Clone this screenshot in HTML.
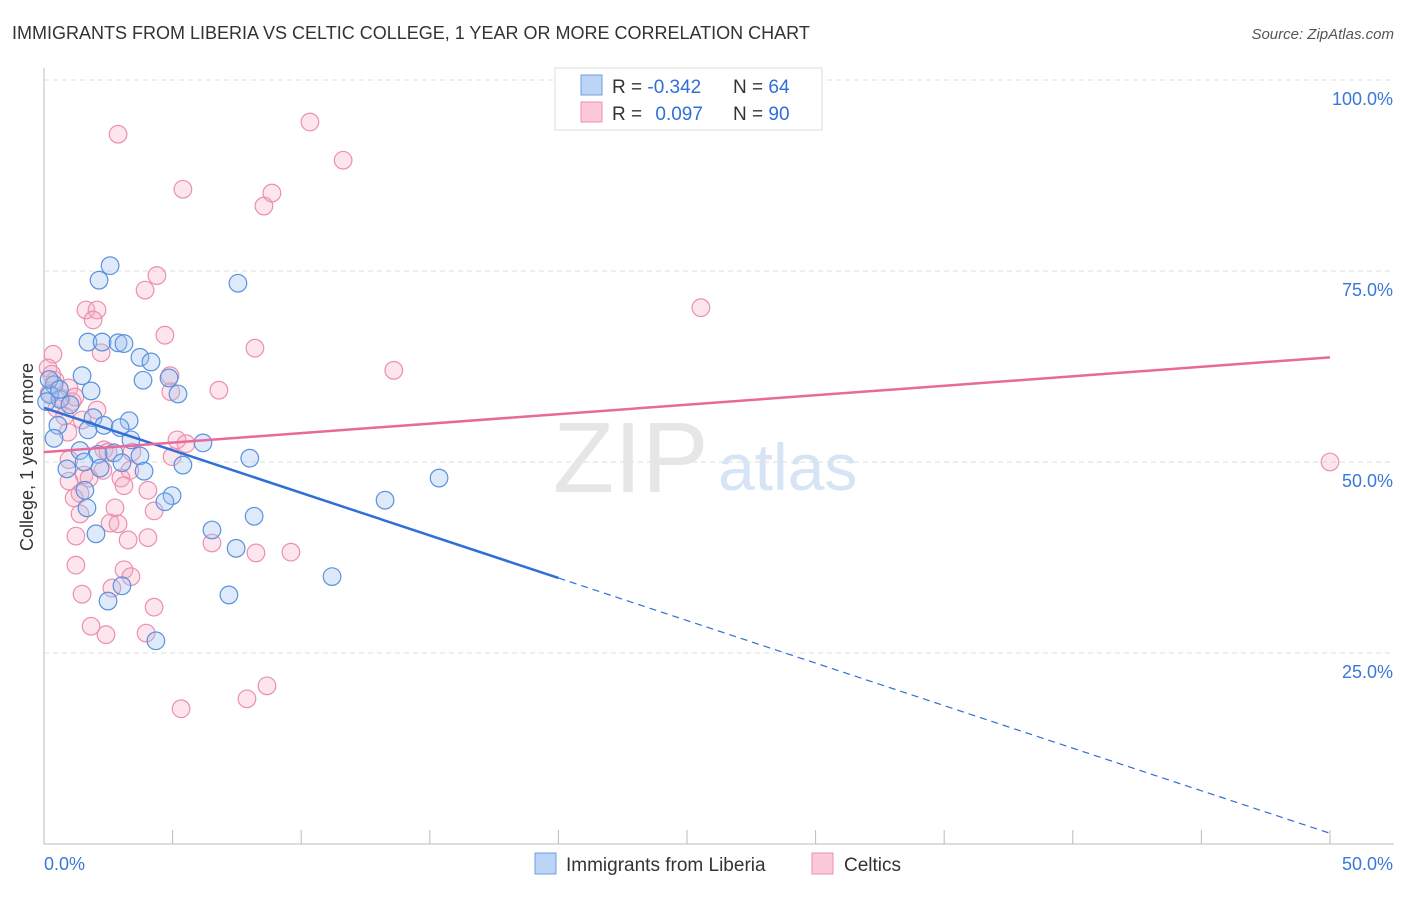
<!DOCTYPE html>
<html><head><meta charset="utf-8"><style>
body{margin:0;background:#fff;font-family:"Liberation Sans",sans-serif}
svg text{font-family:"Liberation Sans",sans-serif}
</style></head><body>
<svg id="chart" width="1406" height="892">
<text x="12" y="39" font-size="18" fill="#333">IMMIGRANTS FROM LIBERIA VS CELTIC COLLEGE, 1 YEAR OR MORE CORRELATION CHART</text>
<text x="1394" y="39" font-size="15" fill="#555" font-style="italic" text-anchor="end">Source: ZipAtlas.com</text>
<g id="grid"></g>
<text x="553" y="492" font-size="100" fill="#e6e6e6" font-family="Liberation Serif">ZIP</text>
<text x="718" y="490" font-size="66" fill="#d6e4f5">atlas</text>
<g id="marks"></g>
<text transform="translate(33,457) rotate(-90)" font-size="18" fill="#333" text-anchor="middle">College, 1 year or more</text>
<g>
<rect x="555" y="68" width="267" height="62" fill="#fff" stroke="#ddd"/>
<rect x="581" y="75" width="21" height="20" fill="#bcd4f5" stroke="#6d9fe0"/>
<rect x="581" y="102" width="21" height="20" fill="#fbc9d8" stroke="#ec8fae"/>
<text x="612" y="93" font-size="19" fill="#333">R = <tspan fill="#2f6fd6">-0.342</tspan></text>
<text x="733" y="93" font-size="19" fill="#333">N = <tspan fill="#2f6fd6">64</tspan></text>
<text x="612" y="120" font-size="19" fill="#333">R = <tspan fill="#2f6fd6" dx="8">0.097</tspan></text>
<text x="733" y="120" font-size="19" fill="#333">N = <tspan fill="#2f6fd6">90</tspan></text>
</g>
<g>
<rect x="535" y="853" width="21" height="21" fill="#bcd4f5" stroke="#6d9fe0"/>
<text x="566" y="871" font-size="19" fill="#333">Immigrants from Liberia</text>
<rect x="812" y="853" width="21" height="21" fill="#fbc9d8" stroke="#ec8fae"/>
<text x="844" y="871" font-size="19" fill="#333">Celtics</text>
</g>
</svg>
<script>
const xTicks=[0,5,10,15,20,25,30,35,40,45,50];
const yTicks=[25,50,75,100];
const yTickLabels=["25.0%","50.0%","75.0%","100.0%"];
const blueX=[2.57,2.14,7.54,1.71,2.26,2.88,3.11,3.73,4.16,1.48,3.85,4.86,1.83,5.21,0.39,0.23,0.62,1.01,1.91,3.31,0.54,2.33,2.96,1.71,3.38,6.18,0.39,1.40,2.72,2.10,3.73,8.0,1.56,3.03,0.89,2.18,3.89,5.4,15.36,1.59,4.98,4.7,13.26,1.67,8.17,6.53,2.02,7.47,3.03,2.49,7.19,11.2,4.35,0.2,0.6,0.1];
const blueY=[75.7,73.8,73.4,65.7,65.7,65.6,65.5,63.7,63.1,61.3,60.7,61.0,59.3,58.9,60.1,58.8,58.2,57.5,55.8,55.4,54.8,54.8,54.5,54.2,52.9,52.5,53.1,51.5,51.2,51.0,50.8,50.5,50.0,49.9,49.1,49.2,48.8,49.6,47.9,46.3,45.6,44.8,45.0,44.0,42.9,41.1,40.6,38.7,33.8,31.8,32.6,35.0,26.6,60.8,59.5,57.9];
const pinkX=[2.88,10.34,11.63,5.4,8.86,8.55,4.39,3.93,1.63,2.06,1.91,25.54,4.7,8.2,2.22,0.35,13.6,4.9,0.16,0.43,6.8,4.93,0.97,0.66,1.09,2.06,1.48,0.93,5.17,5.52,50,2.33,2.49,3.42,0.97,4.98,1.56,1.75,2.29,3.34,2.99,0.97,3.11,1.4,4.04,1.17,2.76,4.28,1.4,2.57,2.88,1.24,4.04,3.27,6.53,8.24,9.6,1.24,3.11,3.38,1.48,2.64,4.28,1.83,2.41,3.97,5.33,7.89,8.67,0.3,0.5,0.8,1.2,0.2];
const pinkY=[92.9,94.5,89.5,85.7,85.2,83.5,74.4,72.5,69.9,69.9,68.6,70.2,66.6,64.9,64.3,64.1,62.0,61.3,62.3,60.7,59.4,59.2,59.7,58.4,57.9,56.8,55.5,53.9,52.9,52.4,50.0,51.6,51.3,51.3,50.3,50.7,48.3,47.9,48.9,48.9,47.9,47.5,46.9,45.9,46.3,45.3,44.0,43.6,43.2,42.0,41.9,40.3,40.1,39.8,39.4,38.1,38.2,36.5,35.9,35.0,32.7,33.5,31.0,28.5,27.4,27.6,17.7,19.0,20.7,61.5,57.0,56.0,58.5,59.0];
const blueTrend=[57.1,1.4];   // value at x=0, at x=50
const pinkTrend=[51.3,63.7];
const X=v=>44+v/50*1286, Y=v=>844-v/100*764;
const NS="http://www.w3.org/2000/svg";
const grid=document.getElementById('grid'), marks=document.getElementById('marks');
function mk(tag,attrs,parent){const e=document.createElementNS(NS,tag);for(const k in attrs)e.setAttribute(k,attrs[k]);parent.appendChild(e);return e;}
let ax=mk('line',{x1:44,y1:68,x2:44,y2:844,stroke:'#bbb'},grid);


let bx=mk('line',{x1:44,y1:844,x2:1394,y2:844,stroke:'#bbb'},grid);


xTicks.forEach(t=>{const tk=mk('line',{x1:X(t),y1:830,x2:X(t),y2:844,stroke:'#bbb'},grid);

});
yTicks.forEach((t,i)=>{const g=mk('line',{x1:44,y1:Y(t),x2:1394,y2:Y(t),stroke:'#ddd','stroke-dasharray':'5,4'},grid);


const l=mk('text',{x:1393,y:Y(t)+25,'font-size':18,fill:'#3a78d8','text-anchor':'end'},grid);l.textContent=yTickLabels[i];

});
let x0=mk('text',{x:44,y:870,'font-size':18,fill:'#3a78d8'},grid);x0.textContent='0.0%';


let x1=mk('text',{x:1393,y:870,'font-size':18,fill:'#3a78d8','text-anchor':'end'},grid);x1.textContent='50.0%';


pinkX.forEach((v,i)=>{const c=mk('circle',{cx:X(v),cy:Y(pinkY[i]),r:8.8,fill:'rgba(246,170,195,0.3)',stroke:'#ec8fae','stroke-width':1.2},marks);

});
blueX.forEach((v,i)=>{const c=mk('circle',{cx:X(v),cy:Y(blueY[i]),r:8.8,fill:'rgba(160,196,240,0.35)',stroke:'#5a92dc','stroke-width':1.2},marks);

});
const bAt=x=>blueTrend[0]+(blueTrend[1]-blueTrend[0])*x/50;
let bl=mk('line',{x1:X(0),y1:Y(bAt(0)),x2:X(20),y2:Y(bAt(20)),stroke:'#2f6fd6','stroke-width':2.5},marks);


let bd=mk('line',{x1:X(20),y1:Y(bAt(20)),x2:X(50),y2:Y(bAt(50)),stroke:'#2f6fd6','stroke-width':1.2,'stroke-dasharray':'7,5'},marks);


let pl=mk('line',{x1:X(0),y1:Y(pinkTrend[0]),x2:X(50),y2:Y(pinkTrend[1]),stroke:'#e8699a','stroke-width':2.5},marks);


</script>
</body></html>
